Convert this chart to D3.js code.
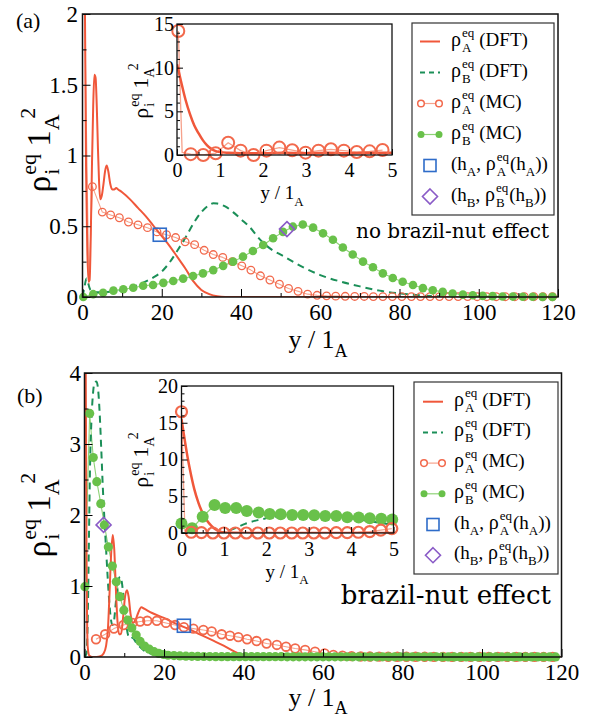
<!DOCTYPE html>
<html><head><meta charset="utf-8">
<script src="https://cdn.jsdelivr.net/npm/d3@7"></script>
<style>
body{margin:0;background:#fff;}
</style></head><body>
<svg id="c" width="597" height="719"></svg>
<script>
// ---------------- DATA ----------------
// Panel (a): no brazil-nut effect
const dftA_a_x = [0,0.3,0.6,0.9,1.2,1.5,1.8,2.1,2.4,2.7,3.0,3.3,3.6,3.9,4.2,4.5,4.9,5.3,5.7,6.1,6.5,7.0,7.5,8.0,8.5,9.0,10,12,14,16,18,20,22,24,26,28,30,32,34,36,60,90,120];
const dftA_a_y = [12,4.5,2.1,0.9,0.35,0.11,0.12,0.45,0.95,1.35,1.57,1.55,1.35,1.05,0.8,0.69,0.72,0.8,0.89,0.93,0.89,0.8,0.76,0.76,0.77,0.76,0.74,0.69,0.63,0.57,0.5,0.43,0.36,0.28,0.2,0.11,0.05,0.02,0.005,0,0,0,0];
const dftB_a_x = [0,0.5,1.0,1.5,2.0,3,4,6,8,10,12,14,16,18,20,22,24,26,28,30,32,33,34,36,38,40,42,45,48,50,55,60,65,70,75,80,85,90,95,100,120];
const dftB_a_y = [0,0.07,0.13,0.09,0.05,0.035,0.033,0.035,0.04,0.05,0.065,0.085,0.11,0.14,0.18,0.245,0.33,0.42,0.52,0.6,0.65,0.662,0.66,0.64,0.6,0.55,0.5,0.4,0.33,0.3,0.22,0.155,0.11,0.075,0.045,0.025,0.012,0.005,0.002,0,0];
const mcA_a_headX = [0.4,0.9,1.6];
const mcA_a_headY = [2.3,1.37,0.07];
const mcA_a_x = [2.5,5.0,7.1,9.3,11.6,14.0,16.4,18.8,21.2,23.5,25.9,28.3,30.7,33.0,35.4,37.8,40.2,42.5,44.9,47.3,49.7,52.0,54.4,56.8,59.2,61.6,63.9,66.3,68.7,71.1,73.4,75.8,78.2,80.6,83.0,85.3,87.7,90.1,92.5,94.8,97.2,99.6,102.0,104.4,106.7,109.1,111.5,113.9,116.2,118.6];
const mcA_a_y = [0.78,0.6,0.58,0.56,0.53,0.51,0.49,0.46,0.44,0.42,0.39,0.37,0.33,0.30,0.28,0.25,0.22,0.19,0.15,0.12,0.09,0.06,0.04,0.02,0.012,0.008,0.006,0.005,0.004,0.004,0.003,0.003,0.003,0.003,0.003,0.003,0.003,0.003,0.003,0.003,0.003,0.002,0.002,0.002,0.002,0.002,0.002,0.002,0.002,0.002];
const mcB_a_x = [0.2,2.7,5.2,7.8,10.3,12.8,15.3,17.8,20.4,22.9,25.4,27.9,30.4,33.0,35.5,38.0,40.5,43.0,45.6,48.1,50.6,53.1,55.6,58.2,60.7,63.2,65.7,68.2,70.8,73.3,75.8,78.3,80.8,83.4,85.9,88.4,90.9,93.4,96.0,98.5,101.0,103.5,106.0,108.6,111.1,113.6,116.1,118.6];
const mcB_a_y = [0,0.02,0.03,0.045,0.055,0.065,0.08,0.085,0.10,0.113,0.13,0.148,0.167,0.19,0.22,0.25,0.285,0.325,0.367,0.415,0.46,0.497,0.512,0.49,0.45,0.405,0.35,0.30,0.25,0.21,0.167,0.134,0.108,0.085,0.063,0.048,0.036,0.025,0.017,0.012,0.008,0.006,0.004,0.003,0.002,0.002,0.001,0.001];
const hA_a = [19.5, 0.44];
const hB_a = [51.6, 0.48];
// inset (a)
const dftA_inA_x = [0,0.1,0.2,0.3,0.4,0.5,0.6,0.7,0.8,0.9,1.0,1.2,1.5,2,2.5,3,3.5,4,4.5,5];
const dftA_inA_y = [10.4,8.3,6.3,4.7,3.4,2.5,1.7,1.1,0.7,0.45,0.33,0.25,0.2,0.2,0.25,0.2,0.25,0.2,0.25,0.25];
const mcA_inA_x = [0.03,0.32,0.61,0.9,1.19,1.48,1.78,2.08,2.38,2.68,2.99,3.29,3.58,3.88,4.18,4.48,4.78];
const mcA_inA_y = [14.2,0.1,0.0,0.2,1.4,0.5,0.0,0.5,0.85,0.55,0.27,0.5,0.65,0.5,0.35,0.42,0.57];
const mcA_inA_wall = [0.12, 0.3];

// Panel (b): brazil-nut effect
const dftA_b_x = [0,0.3,0.5,0.8,1.2,2,3,4,4.8,5.4,5.9,6.3,6.7,7.1,7.5,7.9,8.3,8.7,9.2,9.7,10.2,10.7,11.1,11.6,12.2,12.8,13.5,14.3,15,17,20,23,26,29,32,35,38,40,42,60,120];
const dftA_b_y = [6,4.2,1.6,0.15,0.02,0,0,0.01,0.05,0.15,0.4,0.9,1.45,1.72,1.5,0.95,0.5,0.32,0.33,0.55,0.85,0.94,0.85,0.6,0.48,0.52,0.62,0.7,0.68,0.62,0.55,0.47,0.4,0.32,0.24,0.16,0.07,0.02,0,0,0];
const dftB_b_x = [0,0.5,0.8,1.1,1.4,1.8,2.2,2.6,3.0,3.4,3.8,4.2,4.6,5.0,5.4,5.8,6.2,6.6,7.0,7.4,7.8,8.2,8.6,9.0,9.4,9.8,10.2,10.6,11.0,11.5,12.0,12.5,13,14,15,16,18,20,25,120];
const dftB_b_y = [0,0.05,0.5,1.6,2.7,3.4,3.75,3.87,3.88,3.78,3.45,2.95,2.4,1.95,1.55,1.15,0.8,0.55,0.45,0.5,0.72,0.95,1.1,1.13,1.05,0.85,0.62,0.42,0.3,0.26,0.27,0.25,0.2,0.14,0.09,0.06,0.03,0.01,0,0];
const mcA_b_x = [2.9,5.2,7.4,9.8,12.1,14.0,15.8,18.2,20.5,22.8,25.0,27.4,29.9,32.0,34.5,36.6,38.7,40.9,43.3,45.8,48.4,50.7,53.0,55.5,58.0,60.4,62.6,64.9,67.2,69.5,71.8,74.1,76.4,78.7,81.0,83.3,85.6,87.9,90.2,92.5,94.8,97.1,99.4,101.7,104.0,106.3,108.6,110.9,113.2,115.5,117.8];
const mcA_b_y = [0.25,0.32,0.40,0.45,0.48,0.50,0.51,0.51,0.48,0.45,0.42,0.40,0.38,0.36,0.32,0.30,0.28,0.25,0.225,0.19,0.17,0.145,0.12,0.10,0.075,0.05,0.03,0.02,0.012,0.008,0.006,0.005,0.004,0.004,0.003,0.003,0.003,0.002,0.002,0.002,0.002,0.002,0.002,0.002,0.002,0.002,0.002,0.002,0.002,0.002,0.002];
const mcB_b_x = [0.1,1.3,2.2,3.1,4.1,5.0,6.0,7.0,8.0,8.9,9.9,10.9,11.9,13.0,14.0,15.1,16.3,17.5,18.7,19.9,21,22.5,24,25.5,27,28.5,30,31.5,33,34.5,36,37.5,39,40.5,42,43.5,45,46.5,48,49.5,51,52.5,54,55.5,57,58.5,60,61.5,63,64.5,66,67.5,69,70.5,72,73.5,75,76.5,78,79.5,81,82.5,84,85.5,87,88.5,90,91.5,93,94.5,96,97.5,99,100.5,102,103.5,105,106.5,108,109.5,111,112.5,114,115.5,117,118.5];
const mcB_b_y = [0.99,3.43,2.81,2.47,2.16,1.86,1.55,1.28,1.06,0.85,0.66,0.52,0.41,0.31,0.22,0.155,0.11,0.075,0.05,0.035,0.025,0.02,0.015,0.012,0.01,0.008,0.007,0.006,0.005,0.005,0.004,0.004,0.004,0.004,0.004,0.004,0.004,0.004,0.004,0.004,0.003,0.003,0.003,0.003,0.003,0.003,0.003,0.003,0.003,0.003,0.002,0.002,0.002,0.002,0.002,0.002,0.002,0.002,0.002,0.002,0.002,0.002,0.002,0.002,0.002,0.002,0.001,0.001,0.001,0.001,0.001,0.001,0.001,0.001,0.001,0.001,0.001,0.001,0.001,0.001,0.001,0.001,0.001,0.001,0.001,0.001];
const hA_b = [25, 0.44];
const hB_b = [4.8, 1.86];
// inset (b)
const dftA_inB_x = [0,0.05,0.1,0.15,0.2,0.3,0.4,0.5,0.6,0.7,0.8,0.9,1.0,1.2,2,3,4,5];
const dftA_inB_y = [15.5,13.6,11.8,10.1,8.6,6.0,4.1,2.7,1.7,1.0,0.5,0.22,0.08,0.02,0,0,0,0];
const dftB_inB_x = [0,0.5,0.9,1.1,1.3,1.5,1.8,2.1,2.5,2.9,3.3,3.7,4.1,4.5,5];
const dftB_inB_y = [0,0,0.05,0.3,0.75,1.25,1.75,2.1,2.35,2.4,2.35,2.2,1.9,1.55,1.1];
const mcA_inB_x = [0.0,0.23,0.47,0.74,1.0,1.27,1.53,1.8,2.07,2.33,2.6,2.86,3.12,3.38,3.65,3.91,4.17,4.44,4.7,4.96];
const mcA_inB_y = [16.5,0.1,0.05,0,0,0,0,0,0,0,0,0,0,0,0.05,0.05,0.1,0.2,0.4,0.6];
const mcA_inB_wall = [0.08, 0.3];
const mcB_inB_x = [0.0,0.25,0.5,0.78,1.03,1.29,1.54,1.82,2.08,2.34,2.61,2.87,3.13,3.39,3.65,3.91,4.18,4.44,4.71,4.97];
const mcB_inB_y = [1.3,0.65,2.2,3.8,3.4,3.4,3.0,2.8,2.6,2.55,2.45,2.45,2.4,2.3,2.3,2.15,2.1,2.0,1.95,1.85];

// tick labels
const xTicksMain = [0,20,40,60,80,100,120];
const xMinorMain = [10,30,50,70,90,110];
const yTicksA = [0,0.5,1,1.5,2];
const yMinorA = [0.25,0.75,1.25,1.75];
const yTicksB = [0,1,2,3,4];
const yMinorB = [0.5,1.5,2.5,3.5];
const xTicksIn = [0,1,2,3,4,5];
const xMinorIn = [0.5,1.5,2.5,3.5,4.5];
const yTicksInA = [0,5,10,15];
const yMinorInA = [1,2,3,4,6,7,8,9,11,12,13,14];
const yTicksInB = [0,5,10,15,20];
const yMinorInB = [1,2,3,4,6,7,8,9,11,12,13,14,16,17,18,19];

// ---------------- STYLE ----------------
const SERIF = "'Liberation Serif','Times New Roman',serif";
const WIDE = "'DejaVu Serif',serif";
const RED = "#f0573a", RED_MC = "#f2694c", RED_LINE = "#f6a28c";
const GREEN = "#69c14a", GREEN_LINE = "#8fd277", DGREEN = "#1b8f58";
const BLUE = "#2e6cc9", PURPLE = "#8a5bc7";

const svg = d3.select("#c");
svg.append("rect").attr("width",597).attr("height",719).attr("fill","#fff");
const zip = (a,b) => a.map((v,i)=>[v,b[i]]);
let clipN = 0;

function panel(xd, xr, yd, yr, bg){
  const x = d3.scaleLinear().domain(xd).range(xr);
  const y = d3.scaleLinear().domain(yd).range(yr);
  const g = svg.append("g");
  if (bg) g.append("rect").attr("x",xr[0]).attr("y",yr[1]).attr("width",xr[1]-xr[0]).attr("height",yr[0]-yr[1]).attr("fill","#fff");
  const id = "clip"+(clipN++);
  g.append("clipPath").attr("id",id).append("rect").attr("x",xr[0]).attr("y",yr[1]).attr("width",xr[1]-xr[0]).attr("height",yr[0]-yr[1]);
  const plot = g.append("g").attr("clip-path",`url(#${id})`);
  const marks = g.append("g");
  return {x,y,g,plot,marks};
}
function path(p, data, color, w, dash, curve){
  p.plot.append("path").datum(data).attr("fill","none").attr("stroke",color).attr("stroke-width",w)
    .attr("stroke-dasharray",dash||null).attr("stroke-linejoin","round")
    .attr("d", d3.line().x(d=>p.x(d[0])).y(d=>p.y(d[1])).curve(curve||d3.curveLinear));
}
function circles(p, data, r, stroke, fill, sw){
  const ymax = p.y.domain()[1];
  p.marks.selectAll(null).data(data.filter(d=>d[1]<=ymax)).join("circle")
    .attr("cx",d=>p.x(d[0])).attr("cy",d=>p.y(d[1])).attr("r",r)
    .attr("fill",fill).attr("stroke",stroke).attr("stroke-width",sw);
}
function square(p, d, s){
  p.marks.append("rect").attr("x",p.x(d[0])-s/2).attr("y",p.y(d[1])-s/2).attr("width",s).attr("height",s)
    .attr("fill","none").attr("stroke",BLUE).attr("stroke-width",1.6);
}
function diamond(p, d, s){
  const cx=p.x(d[0]), cy=p.y(d[1]);
  p.marks.append("path").attr("d",`M${cx},${cy-s/2}L${cx+s/2},${cy}L${cx},${cy+s/2}L${cx-s/2},${cy}Z`)
    .attr("fill","none").attr("stroke",PURPLE).attr("stroke-width",1.6);
}
function axes(p, o){
  const {x,y,g} = p;
  const x0=x.range()[0], x1=x.range()[1], y0=y.range()[0], y1=y.range()[1];
  const st = sel => {
    sel.select(".domain").remove();
    sel.attr("font-family",null).attr("font-size",null);
    sel.selectAll("line").attr("stroke","#000").attr("stroke-width",1);
    sel.selectAll("text").attr("font-family",SERIF).attr("font-size",o.fs).attr("fill","#000");
  };
  g.append("g").attr("transform",`translate(0,${y0})`).call(d3.axisBottom(x).tickValues(o.xMinor).tickSize(-o.tMin).tickFormat("")).call(st);
  g.append("g").attr("transform",`translate(0,${y0})`).call(d3.axisBottom(x).tickValues(o.xMajor).tickSize(-o.tMaj).tickPadding(o.xPad).tickFormat(d=>String(d))).call(st);
  g.append("g").attr("transform",`translate(${x0},0)`).call(d3.axisLeft(y).tickValues(o.yMinor).tickSize(-o.tMin).tickFormat("")).call(st);
  g.append("g").attr("transform",`translate(${x0},0)`).call(d3.axisLeft(y).tickValues(o.yMajor).tickSize(-o.tMaj).tickPadding(o.yPad).tickFormat(d=>String(d))).call(st);
  g.append("rect").attr("x",x0).attr("y",y1).attr("width",x1-x0).attr("height",y0-y1)
    .attr("fill","none").attr("stroke","#111").attr("stroke-width",o.fw);
}
function rich(parent, x, y, tokens, o={}){
  const g = parent.append("g").attr("transform",`translate(${x},${y})`+(o.rot?` rotate(${o.rot})`:""));
  const inner = g.append("g");
  let cx=0, lastStart=0;
  tokens.forEach(tk=>{
    const start = tk.stack ? lastStart : cx + (tk.gap||0);
    const t = inner.append("text").attr("x",start).attr("y",tk.dy||0).attr("font-size",tk.fs)
      .attr("font-family",o.family||SERIF).attr("fill","#000").style("white-space","pre").text(tk.t);
    const w = t.node().getComputedTextLength();
    if (tk.stack) cx = Math.max(cx, start+w); else { lastStart = start; cx = start+w; }
  });
  if (o.anchor==="middle") inner.attr("transform",`translate(${-cx/2},0)`);
  return g;
}
function yLabel(x, y, big, small, supDy, subDy){
  return rich(svg, x, y, [
    {t:"ρ",fs:big},{t:"eq",fs:small,dy:supDy,gap:1},{t:"i",fs:small,dy:subDy,stack:true},
    {t:"1",fs:big,gap:big*0.22},{t:"A",fs:small,dy:subDy},{t:"2",fs:small,dy:supDy-1,gap:-small*0.2}
  ], {rot:-90, anchor:"middle"});
}
function xLabel(x, y, big, small, subDy){
  return rich(svg, x, y, [{t:"y / 1",fs:big},{t:"A",fs:small,dy:subDy}], {anchor:"middle"});
}
function legend(x0, y0, w, h, rowY, sx){
  svg.append("rect").attr("x",x0).attr("y",y0).attr("width",w).attr("height",h)
    .attr("fill","#fff").attr("stroke","#333").attr("stroke-width",1.2);
  const tx = sx + 31;
  const rho = s => [{t:"ρ",fs:20},{t:"eq",fs:13,dy:-9,gap:1},{t:s,fs:13,dy:6,stack:true}];
  svg.append("line").attr("x1",sx).attr("x2",sx+20).attr("y1",rowY[0]).attr("y2",rowY[0]).attr("stroke",RED).attr("stroke-width",2);
  rich(svg, tx, rowY[0]+4, [...rho("A"),{t:"(DFT)",fs:19,gap:5}]);
  svg.append("line").attr("x1",sx).attr("x2",sx+20).attr("y1",rowY[1]).attr("y2",rowY[1]).attr("stroke",DGREEN).attr("stroke-width",2).attr("stroke-dasharray","5,4");
  rich(svg, tx, rowY[1]+4, [...rho("B"),{t:"(DFT)",fs:19,gap:5}]);
  svg.append("line").attr("x1",sx+1).attr("x2",sx+19).attr("y1",rowY[2]).attr("y2",rowY[2]).attr("stroke",RED_LINE).attr("stroke-width",1.2);
  [sx+1,sx+19].forEach(cx=>svg.append("circle").attr("cx",cx).attr("cy",rowY[2]).attr("r",3.3).attr("fill","#fff").attr("stroke",RED_MC).attr("stroke-width",1.5));
  rich(svg, tx, rowY[2]+4, [...rho("A"),{t:"(MC)",fs:19,gap:5}]);
  svg.append("line").attr("x1",sx+1).attr("x2",sx+19).attr("y1",rowY[3]).attr("y2",rowY[3]).attr("stroke",GREEN_LINE).attr("stroke-width",1.2);
  [sx+1,sx+19].forEach(cx=>svg.append("circle").attr("cx",cx).attr("cy",rowY[3]).attr("r",3.5).attr("fill",GREEN));
  rich(svg, tx, rowY[3]+4, [...rho("B"),{t:"(MC)",fs:19,gap:5}]);
  svg.append("rect").attr("x",sx+4).attr("y",rowY[4]-6).attr("width",12).attr("height",12).attr("fill","none").attr("stroke",BLUE).attr("stroke-width",1.6);
  rich(svg, tx, rowY[4]+4, [{t:"(h",fs:19},{t:"A",fs:13,dy:6},{t:", ",fs:19},...rho("A"),{t:"(h",fs:19,gap:1},{t:"A",fs:13,dy:6},{t:"))",fs:19}]);
  const cx=sx+10, cy=rowY[5];
  svg.append("path").attr("d",`M${cx},${cy-7.5}L${cx+7.5},${cy}L${cx},${cy+7.5}L${cx-7.5},${cy}Z`).attr("fill","none").attr("stroke",PURPLE).attr("stroke-width",1.6);
  rich(svg, tx, rowY[5]+4, [{t:"(h",fs:19},{t:"B",fs:13,dy:6},{t:", ",fs:19},...rho("B"),{t:"(h",fs:19,gap:1},{t:"B",fs:13,dy:6},{t:"))",fs:19}]);
}

// ---------------- PANEL (a) ----------------
const pa = panel([0,120],[82.5,558],[0,2],[297,14]);
path(pa, zip(mcA_a_headX.concat(mcA_a_x), mcA_a_headY.concat(mcA_a_y)), RED_LINE, 1.1);
path(pa, zip(mcB_a_x, mcB_a_y), GREEN_LINE, 1.1);
circles(pa, zip(mcA_a_x, mcA_a_y), 3.8, RED_MC, "none", 1.3);
circles(pa, zip(mcB_a_x, mcB_a_y), 4.3, "none", GREEN, 0);
path(pa, zip(dftB_a_x, dftB_a_y), DGREEN, 2, "7,5", d3.curveMonotoneX);
path(pa, zip(dftA_a_x, dftA_a_y), RED, 2, null, d3.curveMonotoneX);
square(pa, hA_a, 13);
diamond(pa, hB_a, 15);
axes(pa, {xMajor:xTicksMain,xMinor:xMinorMain,yMajor:yTicksA,yMinor:yMinorA,tMaj:8,tMin:4,xPad:6.7,yPad:4.5,fs:23,fw:1.5});

// inset (a)
const ia = panel([0,5],[177,392],[0,15],[155,24], true);
path(ia, zip([mcA_inA_x[0], mcA_inA_wall[0]].concat(mcA_inA_x.slice(1)), [mcA_inA_y[0], mcA_inA_wall[1]].concat(mcA_inA_y.slice(1))), RED_LINE, 1.3);
path(ia, zip(dftA_inA_x, dftA_inA_y), RED, 2.5, null, d3.curveMonotoneX);
circles(ia, zip(mcA_inA_x, mcA_inA_y), 6, RED_MC, "none", 2);
axes(ia, {xMajor:xTicksIn,xMinor:xMinorIn,yMajor:yTicksInA,yMinor:yMinorInA,tMaj:6,tMin:3,xPad:7.5,yPad:3,fs:20,fw:1.3});

legend(412, 23, 142, 192, [41.5,72.5,103.5,134.5,165.5,196.5], 420);
svg.append("text").attr("x",549).attr("y",238).attr("text-anchor","end").attr("font-family",WIDE).attr("font-size",20).text("no brazil-nut effect");

// ---------------- PANEL (b) ----------------
const pb = panel([0,120],[84.5,561.5],[0,4],[657,373]);
path(pb, zip(mcA_b_x, mcA_b_y), RED_LINE, 1.1);
path(pb, zip(mcB_b_x, mcB_b_y), GREEN_LINE, 1.1);
circles(pb, zip(mcA_b_x, mcA_b_y), 4.3, RED_MC, "none", 1.8);
circles(pb, zip(mcB_b_x, mcB_b_y), 4.6, "none", GREEN, 0);
path(pb, zip(dftB_b_x, dftB_b_y), DGREEN, 2, "7,5", d3.curveMonotoneX);
path(pb, zip(dftA_b_x, dftA_b_y), RED, 2, null, d3.curveMonotoneX);
square(pb, hA_b, 13);
diamond(pb, hB_b, 15);
axes(pb, {xMajor:xTicksMain,xMinor:xMinorMain,yMajor:yTicksB,yMinor:yMinorB,tMaj:8,tMin:4,xPad:6.7,yPad:3.5,fs:23,fw:1.5});

// inset (b)
const ib = panel([0,5],[181.5,393.5],[0,20],[533,386], true);
path(ib, zip(dftB_inB_x, dftB_inB_y), DGREEN, 2, "7,5", d3.curveMonotoneX);
path(ib, zip([mcA_inB_x[0], mcA_inB_wall[0]].concat(mcA_inB_x.slice(1)), [mcA_inB_y[0], mcA_inB_wall[1]].concat(mcA_inB_y.slice(1))), RED_LINE, 1.3);
path(ib, zip(mcB_inB_x, mcB_inB_y), GREEN_LINE, 1.3);
path(ib, zip(dftA_inB_x, dftA_inB_y), RED, 2.5, null, d3.curveMonotoneX);
circles(ib, zip(mcB_inB_x, mcB_inB_y), 6, "none", GREEN, 0);
circles(ib, zip(mcA_inB_x, mcA_inB_y), 5.5, RED_MC, "none", 2.2);
axes(ib, {xMajor:xTicksIn,xMinor:xMinorIn,yMajor:yTicksInB,yMinor:yMinorInB,tMaj:6,tMin:3,xPad:8.5,yPad:3.5,fs:20,fw:1.3});

legend(414, 382, 144, 192, [401.7,432.4,463.1,493.8,524.5,555.2], 423);
svg.append("text").attr("x",551).attr("y",604).attr("text-anchor","end").attr("font-family",WIDE).attr("font-size",26).text("brazil-nut effect");

// ---------------- LABELS ----------------
yLabel(50, 150, 33, 22, -14, 9);
yLabel(50, 515, 33, 22, -14, 9);
yLabel(148, 91, 22, 14, -9, 6);
yLabel(148, 460, 22, 14, -9, 6);
xLabel(318, 348, 26, 18, 9);
xLabel(318, 706, 26, 18, 8);
xLabel(282, 199, 19, 13, 7);
xLabel(287, 578, 19, 13, 6);
svg.append("text").attr("x",16).attr("y",28).attr("font-family",SERIF).attr("font-size",22).text("(a)");
svg.append("text").attr("x",17).attr("y",403).attr("font-family",SERIF).attr("font-size",22).text("(b)");
</script>
</body></html>
